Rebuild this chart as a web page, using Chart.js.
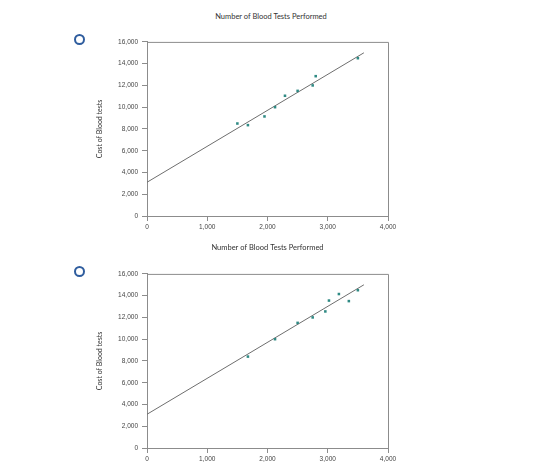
<!DOCTYPE html>
<html>
<head>
<meta charset="utf-8">
<script src="https://cdn.jsdelivr.net/npm/chart.js@4"></script>
<style>
  html, body { margin: 0; padding: 0; background: #fff; }
  body { width: 560px; height: 475px; position: relative; overflow: hidden; }
  .top-note { position: absolute; left: 0; width: 542px; top: 12px; text-align: center;
    font: 7.5px Lato, sans-serif; color: #333; }
  .radio { position: absolute; width: 11px; height: 11px; border: 2px solid #2f5d9e; border-radius: 50%; box-sizing: border-box; }
  .chart-box { position: absolute; left: 90px; width: 320px; height: 222px; }
</style>
</head>
<body>
<div class="top-note">Number of Blood Tests Performed</div>
<div class="radio" style="left:74px;top:34px;"></div>
<div class="radio" style="left:74px;top:266px;"></div>
<div class="chart-box" style="top:34px;"><canvas id="chartA"></canvas></div>
<div class="chart-box" style="top:266px;"><canvas id="chartB"></canvas></div>

<script>
// option A
const testsA = [1500, 1675, 1950, 2125, 2290, 2500, 2750, 2800, 3500];
const costA  = [8500, 8350, 9150, 10000, 11050, 11500, 12000, 12850, 14500];

// option B
const testsB = [1675, 2125, 2500, 2750, 2960, 3020, 3185, 3350, 3500];
const costB  = [8400, 10000, 11500, 12000, 12550, 13550, 14150, 13500, 14500];

// fitted line, same on both
const trendX = [0, 3600];
const trendY = [3100, 15000];

const xTicks = [0, 1000, 2000, 3000, 4000];
const yTicks = [0, 2000, 4000, 6000, 8000, 10000, 12000, 14000, 16000];

const xTitle = 'Number of Blood Tests Performed';
const yTitle = 'Cost of Blood tests';

const axisGray = '#8c8c8c';
const tickFont = { family: '"Liberation Sans Narrow", "Liberation Sans", sans-serif', size: 6.5 };
const fmt = (v) => Number(v).toLocaleString('en-US');

const plotBox = {
  id: 'plotBox',
  afterDraw(chart) {
    const { ctx, chartArea: a } = chart;
    ctx.save();
    ctx.strokeStyle = axisGray;
    ctx.lineWidth = 1;
    ctx.beginPath();
    ctx.moveTo(a.left, a.top + 0.5);
    ctx.lineTo(a.right + 0.5, a.top + 0.5);
    ctx.lineTo(a.right + 0.5, a.bottom);
    ctx.stroke();
    ctx.restore();
  }
};

const toPoints = (xs, ys) => xs.map((x, i) => ({ x, y: ys[i] }));

const makeChart = (id, xs, ys) => new Chart(document.getElementById(id), {
  type: 'scatter',
  data: {
    datasets: [
      {
        data: toPoints(xs, ys),
        pointStyle: 'rect',
        pointRadius: 1.8,
        pointBorderWidth: 0,
        backgroundColor: '#2f8a84',
        borderColor: '#2f8a84',
      },
      {
        data: toPoints(trendX, trendY),
        showLine: true,
        borderColor: '#6e6e6e',
        borderWidth: 1,
        pointRadius: 0,
      },
    ],
  },
  options: {
    responsive: true,
    maintainAspectRatio: false,
    animation: false,
    layout: { padding: { top: 7, right: 22, left: 0, bottom: 0 } },
    plugins: { legend: { display: false }, tooltip: { enabled: false } },
    scales: {
      x: {
        type: 'linear',
        min: 0,
        max: 4000,
        afterBuildTicks: (s) => { s.ticks = xTicks.map(v => ({ value: v })); },
        afterFit: (s) => { s.height = 40; },
        border: { color: axisGray },
        grid: { drawOnChartArea: false, color: axisGray, tickLength: 5 },
        ticks: { color: '#444', font: tickFont, padding: 2, maxRotation: 0, callback: fmt },
        title: {
          display: true,
          text: xTitle,
          color: '#333',
          font: { family: 'Lato, sans-serif', size: 7.5 },
          padding: { top: 4, bottom: 4 },
        },
      },
      y: {
        type: 'linear',
        min: 0,
        max: 16000,
        afterBuildTicks: (s) => { s.ticks = yTicks.map(v => ({ value: v })); },
        afterFit: (s) => { s.width = 57; },
        border: { color: axisGray },
        grid: { drawOnChartArea: false, color: axisGray, tickLength: 5 },
        ticks: { color: '#444', font: tickFont, padding: 4, callback: fmt },
        title: {
          display: true,
          text: yTitle,
          color: '#333',
          font: { family: 'Lato, sans-serif', size: 7 },
          padding: { top: 6, bottom: 4 },
        },
      },
    },
  },
  plugins: [plotBox],
});

makeChart('chartA', testsA, costA);
makeChart('chartB', testsB, costB);
</script>
</body>
</html>
